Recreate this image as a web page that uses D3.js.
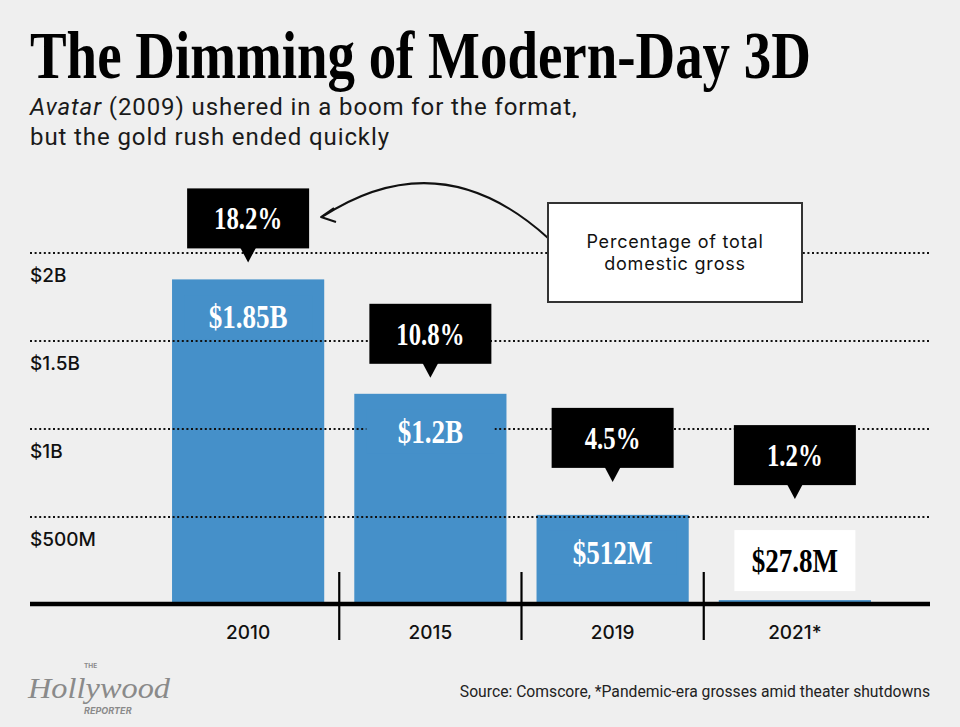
<!DOCTYPE html>
<html><head><meta charset="utf-8">
<script src="https://cdn.jsdelivr.net/npm/d3@7"></script>
<style>
html,body{margin:0;padding:0;background:#efefef;}
svg{display:block;}
</style></head>
<body>
<svg id="chart" width="960" height="727"></svg>
<script>
// ---- data ----
const years = ["2010", "2015", "2019", "2021*"];
const grossB = [1.85, 1.2, 0.512, 0.0278];           // billions USD
const grossLabels = ["$1.85B", "$1.2B", "$512M", "$27.8M"];
const sharePct = [18.2, 10.8, 4.5, 1.2];
const tickValues = [0.5, 1, 1.5, 2];
const tickLabels = ["$500M", "$1B", "$1.5B", "$2B"];

const W = 960, H = 727;
const svg = d3.select("#chart");
svg.append("rect").attr("width", W).attr("height", H).attr("fill", "#efefef");

const serif = "'Liberation Serif', 'DejaVu Serif', serif";
const sans = "Inter, 'Noto Sans', sans-serif";
const blue = "#4590c9";

function condense(sel, factor) {
  sel.each(function () {
    const w = this.getComputedTextLength();
    d3.select(this).attr("textLength", w * factor).attr("lengthAdjust", "spacingAndGlyphs");
  });
}

// ---- title (condensed by horizontal scaling) ----
const titleG = svg.append("g");
const title = titleG.append("text").attr("x", 0).attr("y", 0)
  .attr("font-family", serif).attr("font-weight", "bold").attr("font-size", 68)
  .attr("fill", "#000").text("The Dimming of Modern-Day 3D");
const tw = title.node().getComputedTextLength();
titleG.attr("transform", `translate(30,78) scale(${781 / tw},1)`);

const sub = svg.append("text").attr("font-family", "Roboto, sans-serif").attr("font-size", 24)
  .attr("letter-spacing", 0.9).attr("fill", "#1a1a1a");
const l1 = sub.append("tspan").attr("x", 30).attr("y", 115);
l1.append("tspan").attr("font-style", "italic").text("Avatar");
l1.append("tspan").text(" (2009) ushered in a boom for the format,");
sub.append("tspan").attr("x", 30).attr("y", 145).text("but the gold rush ended quickly");

// ---- scales ----
const x = d3.scaleBand().domain(years).range([157, 886]).paddingInner(0.165).paddingOuter(0.0825);
const y = d3.scaleLinear().domain([0, 2]).range([605, 253]);

// ---- bars ----
svg.append("g").selectAll("rect").data(years).join("rect")
  .attr("x", d => x(d)).attr("width", x.bandwidth())
  .attr("y", (d, i) => y(grossB[i])).attr("height", (d, i) => y(0) - y(grossB[i]))
  .attr("fill", blue);

// ---- gridlines (dotted) ----
const grid = svg.append("g");
grid.selectAll("line").data(tickValues).join("line")
  .attr("x1", 30).attr("x2", 930)
  .attr("y1", d => y(d)).attr("y2", d => y(d))
  .attr("stroke", "#111").attr("stroke-width", 2.2).attr("stroke-dasharray", "2,2.6");
grid.selectAll("text").data(tickValues).join("text")
  .attr("x", 30).attr("y", d => y(d) + 29)
  .attr("font-family", sans).attr("font-weight", 500).attr("font-size", 19).attr("fill", "#111")
  .text((d, i) => tickLabels[i]);

// ---- value labels ----
const vl = svg.append("g");
years.forEach((yr, i) => {
  const cx = x(yr) + x.bandwidth() / 2;
  const small = (y(0) - y(grossB[i])) < 60;
  let cy;
  if (small) {
    const boxBottom = y(grossB[i]) - 9;
    vl.append("rect").attr("x", cx - 60.5).attr("y", boxBottom - 61).attr("width", 121).attr("height", 61).attr("fill", "#fff");
    cy = boxBottom - 30.5;
  } else {
    cy = y(grossB[i]) + 38;
    vl.append("rect").attr("x", cx - 64).attr("y", cy - 22).attr("width", 128).attr("height", 44).attr("fill", blue);
  }
  vl.append("text").attr("x", cx).attr("y", cy + 11).attr("text-anchor", "middle")
    .attr("font-family", serif).attr("font-weight", "bold").attr("font-size", 33)
    .attr("fill", small ? "#000" : "#fff").text(grossLabels[i])
    .call(condense, 0.82);
});

// ---- percentage callouts ----
const tipGap = [17, 16, 33, 101];
const co = svg.append("g");
years.forEach((yr, i) => {
  const cx = x(yr) + x.bandwidth() / 2;
  const tip = y(grossB[i]) - tipGap[i];
  const bb = tip - 14;
  co.append("rect").attr("x", cx - 61).attr("y", bb - 60).attr("width", 122).attr("height", 60).attr("fill", "#000");
  co.append("path").attr("d", `M${cx - 8},${bb - 1}L${cx + 8},${bb - 1}L${cx},${tip}Z`).attr("fill", "#000");
  co.append("text").attr("x", cx).attr("y", bb - 19).attr("text-anchor", "middle")
    .attr("font-family", serif).attr("font-weight", "bold").attr("font-size", 31)
    .attr("fill", "#fff").text(sharePct[i].toFixed(1) + "%")
    .call(condense, 0.8);
});

// ---- legend box + arrow ----
svg.append("path").attr("d", "M548,238 Q440,140 322,217")
  .attr("fill", "none").attr("stroke", "#111").attr("stroke-width", 2);
svg.append("path").attr("d", "M334,208 L321,217 L336,222")
  .attr("fill", "none").attr("stroke", "#111").attr("stroke-width", 2).attr("stroke-linejoin", "round");
svg.append("rect").attr("x", 548).attr("y", 203).attr("width", 254).attr("height", 99)
  .attr("fill", "#fff").attr("stroke", "#333").attr("stroke-width", 2);
const lt = svg.append("text").attr("text-anchor", "middle").attr("font-family", sans)
  .attr("font-size", 18).attr("letter-spacing", 0.8).attr("fill", "#111");
lt.append("tspan").attr("x", 675).attr("y", 248).text("Percentage of total");
lt.append("tspan").attr("x", 675).attr("y", 270).text("domestic gross");

// ---- x axis ----
svg.append("line").attr("x1", 30).attr("x2", 930).attr("y1", 604).attr("y2", 604)
  .attr("stroke", "#000").attr("stroke-width", 4.5);
const step = x.step();
svg.append("g").selectAll("line").data(years.slice(1)).join("line")
  .attr("x1", d => x(d) - (step - x.bandwidth()) / 2).attr("x2", d => x(d) - (step - x.bandwidth()) / 2)
  .attr("y1", 572).attr("y2", 640).attr("stroke", "#000").attr("stroke-width", 2.2);
svg.append("g").selectAll("text").data(years).join("text")
  .attr("x", d => x(d) + x.bandwidth() / 2).attr("y", 639).attr("text-anchor", "middle")
  .attr("font-family", sans).attr("font-weight", 500).attr("font-size", 19).attr("fill", "#111")
  .text(d => d);

// ---- footer ----
svg.append("text").attr("x", 930).attr("y", 697).attr("text-anchor", "end")
  .attr("font-family", "Roboto, sans-serif").attr("font-size", 15.7).attr("fill", "#222")
  .text("Source: Comscore, *Pandemic-era grosses amid theater shutdowns");

const logo = svg.append("g").attr("fill", "#8a8a8a");
logo.append("text").attr("x", 28).attr("y", 698).attr("font-family", serif).attr("font-style", "italic")
  .attr("font-size", 30).text("Hollywood").attr("textLength", 142).attr("lengthAdjust", "spacingAndGlyphs");
logo.append("text").attr("x", 84).attr("y", 668).attr("font-family", sans).attr("font-weight", 700)
  .attr("font-size", 6.5).text("THE");
logo.append("text").attr("x", 84).attr("y", 714).attr("font-family", sans).attr("font-weight", 700)
  .attr("font-style", "italic").attr("font-size", 9).text("REPORTER");
</script>
</body></html>
